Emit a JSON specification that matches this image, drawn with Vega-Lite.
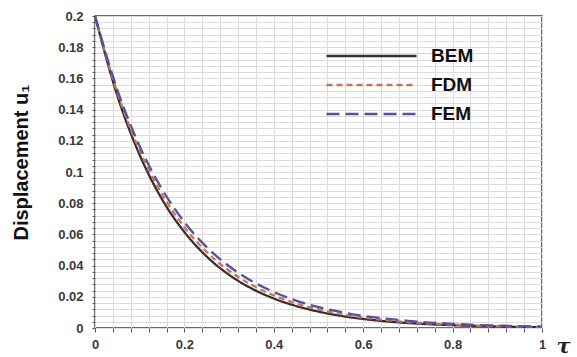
{
  "$schema": "https://vega.github.io/schema/vega-lite/v6.json",
  "width": 447,
  "height": 312,
  "autosize": {"type": "none"},
  "padding": {"left": 95, "top": 16, "right": 35, "bottom": 29},
  "background": "white",
  "config": {
    "font": "Liberation Sans",
    "view": {"stroke": "#3a3a3a", "strokeWidth": 1.5},
    "axis": {"gridColor": "#dcdcdc", "gridWidth": 1, "domain": false, "tickColor": "#555", "labelFont": "Liberation Sans", "labelFontWeight": "bold", "labelFontSize": 13, "labelColor": "#3a3a3a"}
  },
  "data": {
    "values": [
      {"t": 0, "m": "BEM", "u": 0.2}, {"t": 0.05, "m": "BEM", "u": 0.1489}, {"t": 0.1, "m": "BEM", "u": 0.1109}, {"t": 0.15, "m": "BEM", "u": 0.0825}, {"t": 0.2, "m": "BEM", "u": 0.0615}, {"t": 0.25, "m": "BEM", "u": 0.0458}, {"t": 0.3, "m": "BEM", "u": 0.0341}, {"t": 0.35, "m": "BEM", "u": 0.0254}, {"t": 0.4, "m": "BEM", "u": 0.0189}, {"t": 0.45, "m": "BEM", "u": 0.0141}, {"t": 0.5, "m": "BEM", "u": 0.0105}, {"t": 0.55, "m": "BEM", "u": 0.0078}, {"t": 0.6, "m": "BEM", "u": 0.0058}, {"t": 0.65, "m": "BEM", "u": 0.0043}, {"t": 0.7, "m": "BEM", "u": 0.0032}, {"t": 0.75, "m": "BEM", "u": 0.0024}, {"t": 0.8, "m": "BEM", "u": 0.0018}, {"t": 0.85, "m": "BEM", "u": 0.0013}, {"t": 0.9, "m": "BEM", "u": 0.001}, {"t": 0.95, "m": "BEM", "u": 0.0007}, {"t": 1, "m": "BEM", "u": 0.0005},
      {"t": 0, "m": "FDM", "u": 0.2}, {"t": 0.05, "m": "FDM", "u": 0.1508}, {"t": 0.1, "m": "FDM", "u": 0.1137}, {"t": 0.15, "m": "FDM", "u": 0.0857}, {"t": 0.2, "m": "FDM", "u": 0.0646}, {"t": 0.25, "m": "FDM", "u": 0.0487}, {"t": 0.3, "m": "FDM", "u": 0.0367}, {"t": 0.35, "m": "FDM", "u": 0.0277}, {"t": 0.4, "m": "FDM", "u": 0.0209}, {"t": 0.45, "m": "FDM", "u": 0.0157}, {"t": 0.5, "m": "FDM", "u": 0.0119}, {"t": 0.55, "m": "FDM", "u": 0.0089}, {"t": 0.6, "m": "FDM", "u": 0.0067}, {"t": 0.65, "m": "FDM", "u": 0.0051}, {"t": 0.7, "m": "FDM", "u": 0.0038}, {"t": 0.75, "m": "FDM", "u": 0.0029}, {"t": 0.8, "m": "FDM", "u": 0.0022}, {"t": 0.85, "m": "FDM", "u": 0.0016}, {"t": 0.9, "m": "FDM", "u": 0.0012}, {"t": 0.95, "m": "FDM", "u": 0.0009}, {"t": 1, "m": "FDM", "u": 0.0007},
      {"t": 0, "m": "FEM", "u": 0.2}, {"t": 0.05, "m": "FEM", "u": 0.1527}, {"t": 0.1, "m": "FEM", "u": 0.1165}, {"t": 0.15, "m": "FEM", "u": 0.089}, {"t": 0.2, "m": "FEM", "u": 0.0679}, {"t": 0.25, "m": "FEM", "u": 0.0518}, {"t": 0.3, "m": "FEM", "u": 0.0396}, {"t": 0.35, "m": "FEM", "u": 0.0302}, {"t": 0.4, "m": "FEM", "u": 0.0231}, {"t": 0.45, "m": "FEM", "u": 0.0176}, {"t": 0.5, "m": "FEM", "u": 0.0134}, {"t": 0.55, "m": "FEM", "u": 0.0103}, {"t": 0.6, "m": "FEM", "u": 0.0078}, {"t": 0.65, "m": "FEM", "u": 0.006}, {"t": 0.7, "m": "FEM", "u": 0.0046}, {"t": 0.75, "m": "FEM", "u": 0.0035}, {"t": 0.8, "m": "FEM", "u": 0.0027}, {"t": 0.85, "m": "FEM", "u": 0.002}, {"t": 0.9, "m": "FEM", "u": 0.0016}, {"t": 0.95, "m": "FEM", "u": 0.0012}, {"t": 1, "m": "FEM", "u": 0.0009}
    ]
  },
  "mark": {"type": "line", "strokeWidth": 2.3, "interpolate": "monotone", "clip": true},
  "encoding": {
    "x": {
      "field": "t", "type": "quantitative",
      "scale": {"domain": [0, 1], "nice": false},
      "axis": {
        "values": [0, 0.04, 0.08, 0.12, 0.16, 0.2, 0.24, 0.28, 0.32, 0.36, 0.4, 0.44, 0.48, 0.52, 0.56, 0.6, 0.64, 0.68, 0.72, 0.76, 0.8, 0.84, 0.88, 0.92, 0.96, 1],
        "labelExpr": "abs(datum.value*5 - round(datum.value*5)) < 0.001 ? format(datum.value, '~g') : ''",
        "tickSize": 4, "labelPadding": 6, "labelFlush": false,
        "title": "τ", "titleFont": "DejaVu Serif", "titleFontStyle": "italic", "titleFontWeight": "bold", "titleFontSize": 21, "titleColor": "#222",
        "titleAnchor": "start", "titleAlign": "left", "titleBaseline": "middle", "titleX": 461, "titleY": 18
      }
    },
    "y": {
      "field": "u", "type": "quantitative",
      "scale": {"domain": [0, 0.2], "nice": false},
      "axis": {
        "values": [0, 0.004, 0.008, 0.012, 0.016, 0.02, 0.024, 0.028, 0.032, 0.036, 0.04, 0.044, 0.048, 0.052, 0.056, 0.06, 0.064, 0.068, 0.072, 0.076, 0.08, 0.084, 0.088, 0.092, 0.096, 0.1, 0.104, 0.108, 0.112, 0.116, 0.12, 0.124, 0.128, 0.132, 0.136, 0.14, 0.144, 0.148, 0.152, 0.156, 0.16, 0.164, 0.168, 0.172, 0.176, 0.18, 0.184, 0.188, 0.192, 0.196, 0.2],
        "labelExpr": "abs(datum.value*50 - round(datum.value*50)) < 0.001 ? format(datum.value, '~g') : ''",
        "tickSize": 3, "labelPadding": 9, "labelFlush": false,
        "title": "Displacement u₁", "titleFontSize": 20, "titleFontWeight": "bold", "titleColor": "#111",
        "titleX": -74, "titleY": 146, "titleAngle": -90, "titleAlign": "center", "titleBaseline": "middle"
      }
    },
    "color": {
      "field": "m", "type": "nominal",
      "scale": {"domain": ["BEM", "FDM", "FEM"], "range": ["#3b2b2e", "#c0785a", "#5a4f9c"]},
      "legend": {
        "title": null, "orient": "none", "legendX": 230, "legendY": 27,
        "symbolType": "stroke", "symbolSize": 8100, "symbolStrokeWidth": 2.3, "clipHeight": 26,
        "labelFontSize": 19, "labelFontWeight": "bold", "labelColor": "#111", "labelOffset": 13, "rowPadding": 3
      }
    },
    "strokeDash": {
      "field": "m", "type": "nominal",
      "scale": {"domain": ["BEM", "FDM", "FEM"], "range": [[1, 0], [6, 4], [13, 6]]}
    }
  }
}
